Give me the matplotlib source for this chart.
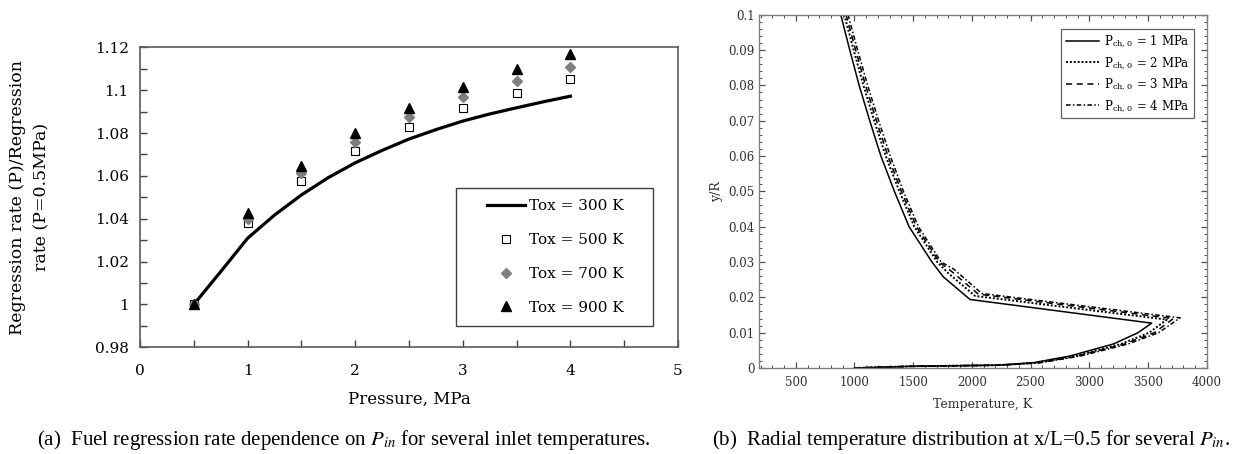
import matplotlib
matplotlib.use("Agg")
import matplotlib.pyplot as plt
from matplotlib.patches import Rectangle
from matplotlib.ticker import MultipleLocator

plt.rcParams["font.family"] = ["DejaVu Serif"]
plt.rcParams["mathtext.fontset"] = "stix"

# ---- panel (a): regression rate ratio vs pressure
pressure = [0.5, 1.0, 1.5, 2.0, 2.5, 3.0, 3.5, 4.0]
rate_500 = [1.000, 1.038, 1.0578, 1.0717, 1.0828, 1.0916, 1.0986, 1.1053]
rate_700 = [1.000, 1.040, 1.0612, 1.0760, 1.0873, 1.0967, 1.1044, 1.1108]
rate_900 = [1.000, 1.0427, 1.0646, 1.0798, 1.0916, 1.1016, 1.1097, 1.1167]

p_line = [0.5, 0.75, 1.0, 1.25, 1.5, 1.75, 2.0, 2.25, 2.5, 2.75, 3.0,
          3.25, 3.5, 3.75, 4.0]
rate_300 = [1.000, 1.0153, 1.0309, 1.0417, 1.0511, 1.0592, 1.0661, 1.0719,
            1.0772, 1.0816, 1.0856, 1.0889, 1.0918, 1.0946, 1.0972]

# ---- panel (b): radial temperature profiles (T, y/R)
T_1 = [883, 960, 1040, 1130, 1225, 1340, 1465, 1660, 1757, 1984,
       3531, 3415, 3205, 2836, 2523, 2212, 1500, 1000]
y_1 = [0.100, 0.090, 0.080, 0.070, 0.060, 0.050, 0.040, 0.030, 0.0258, 0.0194,
       0.0127, 0.0100, 0.0068, 0.0034, 0.0015, 0.0008, 0.0005, 0.0]
T_2 = [913, 993, 1076, 1168, 1266, 1383, 1510, 1705, 1800, 2027,
       3660, 3510, 3270, 2880, 2555, 2230, 1500, 1000]
y_2 = [0.100, 0.090, 0.080, 0.070, 0.060, 0.050, 0.040, 0.030, 0.0268, 0.0204,
       0.0137, 0.0100, 0.0068, 0.0034, 0.0015, 0.0008, 0.0005, 0.0]
T_3 = [928, 1010, 1094, 1187, 1285, 1400, 1528, 1722, 1825, 2055,
       3716, 3555, 3300, 2905, 2570, 2240, 1500, 1000]
y_3 = [0.100, 0.090, 0.080, 0.070, 0.060, 0.050, 0.040, 0.030, 0.0274, 0.0209,
       0.0140, 0.0100, 0.0068, 0.0034, 0.0015, 0.0008, 0.0005, 0.0]
T_4 = [945, 1027, 1112, 1206, 1305, 1417, 1545, 1738, 1845, 2084,
       3773, 3590, 3330, 2925, 2585, 2250, 1500, 1000]
y_4 = [0.100, 0.090, 0.080, 0.070, 0.060, 0.050, 0.040, 0.030, 0.0280, 0.0211,
       0.0142, 0.0100, 0.0068, 0.0034, 0.0015, 0.0008, 0.0005, 0.0]

fig = plt.figure(figsize=(12.42, 4.54), dpi=100)

# ---------------- left panel
ax1 = fig.add_axes([0.1127, 0.2350, 0.4332, 0.6607])
ax1.plot(p_line, rate_300, color="black", lw=2.3, label="Tox = 300 K")
ax1.plot(pressure, rate_500, ls="none", marker="s", ms=5.5, mfc="white",
         mec="black", mew=0.8, label="Tox = 500 K")
ax1.plot(pressure, rate_700, ls="none", marker="D", ms=5.5, mfc="#7f7f7f",
         mec="#7f7f7f", label="Tox = 700 K")
ax1.plot(pressure, rate_900, ls="none", marker="^", ms=7.5, mfc="black",
         mec="black", label="Tox = 900 K")

ax1.set_xlim(0, 5)
ax1.set_ylim(0.98, 1.12)
ax1.xaxis.set_major_locator(MultipleLocator(1))
ax1.xaxis.set_minor_locator(MultipleLocator(0.5))
ax1.yaxis.set_minor_locator(MultipleLocator(0.01))
ax1.set_yticks([0.98, 1.0, 1.02, 1.04, 1.06, 1.08, 1.1, 1.12])
ax1.set_yticklabels(["0.98", "1", "1.02", "1.04", "1.06", "1.08", "1.1", "1.12"])
ax1.tick_params(which="both", direction="in", length=5, width=1,
                color="#404040", labelsize=11, pad=8)
ax1.tick_params(axis="x", pad=12)
for s in ax1.spines.values():
    s.set_color("#5a5a5a")
    s.set_linewidth(1.2)
ax1.set_xlabel("Pressure, MPa", fontsize=12, labelpad=9)
ax1.set_ylabel("Regression rate (P)/Regression\nrate (P=0.5MPa)", fontsize=12.5,
               labelpad=32, linespacing=1.55)

# legend box drawn separately (Excel-style wide frame)
ax1.add_patch(Rectangle((0.587, 0.072), 0.366, 0.458, transform=ax1.transAxes,
                        facecolor="white", edgecolor="#404040", lw=1.0, zorder=4))
leg1 = ax1.legend(loc="center", bbox_to_anchor=(0.772, 0.301),
                  fontsize=11, frameon=False, handlelength=2.5,
                  handletextpad=0.3, labelspacing=1.3, borderpad=0)
leg1.set_zorder(5)

# ---------------- right panel
ax2 = fig.add_axes([0.6114, 0.1894, 0.3602, 0.7782])
ax2.plot(T_1, y_1, color="black", lw=1.1, ls="-",
         label=r"P$_{\mathregular{ch,\,0}}$ = 1 MPa")
ax2.plot(T_2, y_2, color="black", lw=1.4, ls=(0, (1, 1)),
         label=r"P$_{\mathregular{ch,\,0}}$ = 2 MPa")
ax2.plot(T_3, y_3, color="black", lw=1.1, ls=(0, (4, 3)),
         label=r"P$_{\mathregular{ch,\,0}}$ = 3 MPa")
ax2.plot(T_4, y_4, color="black", lw=1.1, ls=(0, (3, 1.5, 1, 1.5)),
         label=r"P$_{\mathregular{ch,\,0}}$ = 4 MPa")

ax2.set_xlim(190, 4000)
ax2.set_ylim(0, 0.1)
ax2.xaxis.set_major_locator(MultipleLocator(500))
ax2.xaxis.set_minor_locator(MultipleLocator(100))
ax2.yaxis.set_minor_locator(MultipleLocator(0.002))
ax2.set_yticks([0, 0.01, 0.02, 0.03, 0.04, 0.05, 0.06, 0.07, 0.08, 0.09, 0.1])
ax2.set_yticklabels(["0", "0.01", "0.02", "0.03", "0.04", "0.05", "0.06",
                     "0.07", "0.08", "0.09", "0.1"])
ax2.tick_params(which="both", direction="in", top=True, right=True,
                color="#505050", labelsize=8.5, labelcolor="#303030")
ax2.tick_params(which="major", length=4, width=0.9)
ax2.tick_params(which="minor", length=2, width=0.7)
ax2.tick_params(axis="x", pad=6)
for s in ax2.spines.values():
    s.set_color("#808080")
    s.set_linewidth(1.0)
ax2.set_xlabel("Temperature, K", fontsize=9, labelpad=6, color="#303030")
ax2.set_ylabel("y/R", fontsize=9, labelpad=4, color="#303030")
leg2 = ax2.legend(loc="upper right", bbox_to_anchor=(0.972, 0.959),
                  fontsize=8.5, frameon=True, fancybox=False, edgecolor="#404040",
                  handlelength=2.8, handletextpad=0.4, labelspacing=0.55,
                  borderpad=0.4, borderaxespad=0)
leg2.get_frame().set_linewidth(0.9)

# ---------------- captions
fig.text(0.277, 0.031,
         r"(a)  Fuel regression rate dependence on $P_{in}$ for several inlet temperatures.",
         ha="center", va="center", fontsize=15, family="Liberation Serif")
fig.text(0.782, 0.031,
         r"(b)  Radial temperature distribution at x/L=0.5 for several $P_{in}$.",
         ha="center", va="center", fontsize=15, family="Liberation Serif")

fig.savefig("out.png", dpi=100)
